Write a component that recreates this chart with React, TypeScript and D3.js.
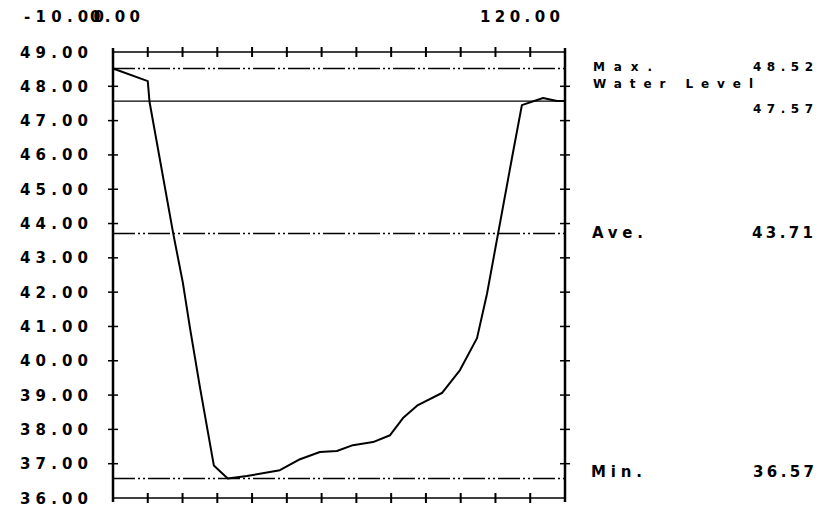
import * as d3 from 'd3';

// cross-section profile: distance along section vs bed elevation
const distance = [-10, 0, 0.5, 7.3, 10.1, 12.1, 15.0, 19.0, 23.0, 28.5, 38.0, 43.8, 49.5, 54.4, 59.0, 64.8, 69.7, 73.4, 77.7, 84.6, 89.8, 94.7, 97.6, 104.8, 107.6, 113.7, 117.7, 120];
const elevation = [48.52, 48.15, 47.55, 43.72, 42.27, 40.98, 39.23, 36.95, 36.57, 36.64, 36.81, 37.13, 37.34, 37.37, 37.54, 37.63, 37.83, 38.33, 38.71, 39.06, 39.73, 40.66, 41.97, 45.94, 47.45, 47.66, 47.57, 47.57];

// reference levels
const levelNames = ['Max.', 'Water Level', 'Ave.', 'Min.'];
const levelValues = [48.52, 47.57, 43.71, 36.57];
const levelDashed = [true, false, true, true];

const xTickValues = [0, 10, 20, 30, 40, 50, 60, 70, 80, 90, 100, 110];
const yTickValues = [36, 37, 38, 39, 40, 41, 42, 43, 44, 45, 46, 47, 48, 49];

const W = 825;
const H = 516;
const font = "'DejaVu Sans', sans-serif";

export default function App() {
  const x = d3.scaleLinear().domain([-10, 120]).range([113, 565]);
  const y = d3.scaleLinear().domain([36, 49]).range([498, 52]);

  const line = d3
    .line<number>()
    .x((d, i) => x(distance[i]))
    .y((d) => y(d));

  const [x0, x1] = x.range();
  const [yb, yt] = y.range();
  const dashDotDot = '22,3,2,3,2,3';

  return (
    <svg
      width={W}
      height={H}
      style={{ position: 'absolute', left: 0, top: 0, background: '#fff' }}
    >
      {/* header labels (the two left ones overprint in the original) */}
      <g fontFamily={font} fontWeight="bold" fontSize={15} fill="#000">
        <text x={24} y={22} textLength={80} lengthAdjust="spacing">-10.00</text>
        <text x={90} y={22} textLength={50} lengthAdjust="spacing">0.00</text>
        <text x={480} y={22} textLength={80} lengthAdjust="spacing">120.00</text>
      </g>

      {/* y tick labels */}
      <g fontFamily={font} fontWeight="bold" fontSize={15} fill="#000">
        {yTickValues.map((v) => (
          <text key={v} x={20} y={y(v) + 5.5} textLength={68} lengthAdjust="spacing">
            {v.toFixed(2)}
          </text>
        ))}
      </g>

      {/* frame */}
      <g stroke="#000" fill="none">
        <line x1={x0} x2={x1} y1={yt} y2={yt} strokeWidth={1.5} />
        <line x1={x0} x2={x1} y1={yb} y2={yb} strokeWidth={1.5} />
        <line x1={x0} x2={x0} y1={yt - 4} y2={yb + 4} strokeWidth={2.5} />
        <line x1={x1} x2={x1} y1={yt - 4} y2={yb + 4} strokeWidth={2.5} />
        {xTickValues.map((v) => (
          <g key={v}>
            <line x1={x(v)} x2={x(v)} y1={yt - 5} y2={yt + 5} strokeWidth={2} />
            <line x1={x(v)} x2={x(v)} y1={yb - 5} y2={yb + 5} strokeWidth={2} />
          </g>
        ))}
        {yTickValues.slice(1, -1).map((v) => (
          <g key={v}>
            <line x1={x0 - 5} x2={x0 + 5} y1={y(v)} y2={y(v)} strokeWidth={1.5} />
            <line x1={x1 - 5} x2={x1 + 5} y1={y(v)} y2={y(v)} strokeWidth={1.5} />
          </g>
        ))}
      </g>

      {/* reference level lines */}
      <g stroke="#000" fill="none">
        {levelValues.map((v, i) => (
          <line
            key={i}
            x1={x0}
            x2={x1}
            y1={y(v)}
            y2={y(v)}
            strokeWidth={levelDashed[i] ? 1.6 : 1.2}
            strokeDasharray={levelDashed[i] ? dashDotDot : undefined}
          />
        ))}
      </g>

      {/* profile */}
      <path d={line(elevation) ?? ''} fill="none" stroke="#000" strokeWidth={2} strokeLinejoin="round" />

      {/* level annotations */}
      <g fontFamily={font} fontWeight="bold" fill="#000">
        <text x={593} y={71} fontSize={12} textLength={59} lengthAdjust="spacing">{levelNames[0]}</text>
        <text x={753} y={71} fontSize={12} textLength={60} lengthAdjust="spacing">{levelValues[0].toFixed(2)}</text>
        <text x={593} y={88} fontSize={12} textLength={160} lengthAdjust="spacing">{levelNames[1]}</text>
        <text x={753} y={113} fontSize={12} textLength={60} lengthAdjust="spacing">{levelValues[1].toFixed(2)}</text>
        <text x={592} y={238} fontSize={15} textLength={51} lengthAdjust="spacing">{levelNames[2]}</text>
        <text x={752} y={238} fontSize={15} textLength={61} lengthAdjust="spacing">{levelValues[2].toFixed(2)}</text>
        <text x={591} y={477} fontSize={15} textLength={51} lengthAdjust="spacing">{levelNames[3]}</text>
        <text x={753} y={477} fontSize={15} textLength={61} lengthAdjust="spacing">{levelValues[3].toFixed(2)}</text>
      </g>
    </svg>
  );
}
